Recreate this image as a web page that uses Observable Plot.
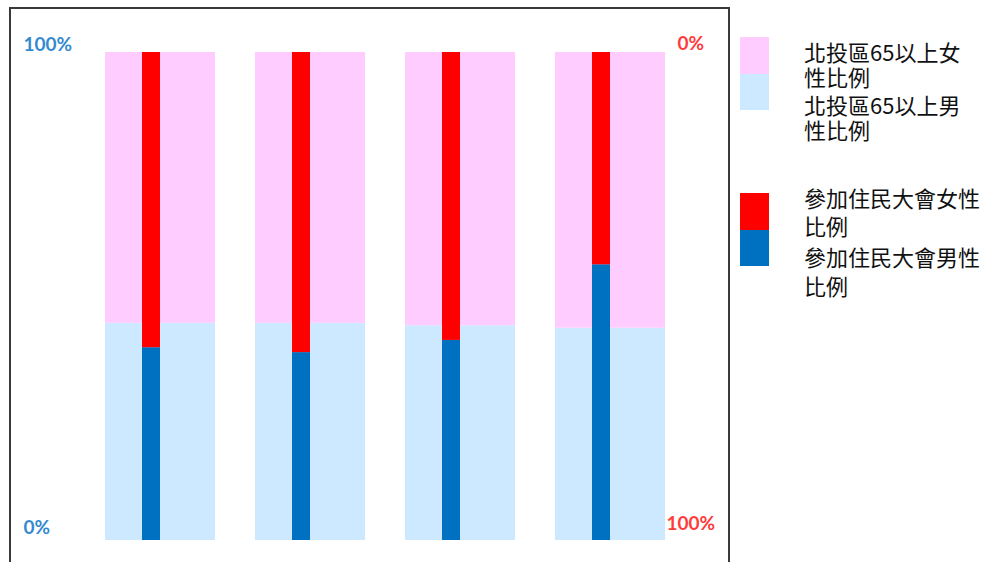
<!DOCTYPE html>
<html>
<head>
<meta charset="utf-8">
<script src="https://cdn.jsdelivr.net/npm/d3@7"></script>
<script src="https://cdn.jsdelivr.net/npm/@observablehq/plot@0.6"></script>
<style>
  html, body { margin: 0; padding: 0; background: #fff; overflow: hidden; }
  #wrap { position: relative; width: 994px; height: 562px; }
  #frame { position: absolute; left: 9px; top: 7px; width: 717px; height: 600px;
           border: 2px solid #3a3a3a; border-bottom: none; }
  #chart { position: absolute; left: 0; top: 0; }
  .leg { position: absolute; font-family: "Noto Sans CJK TC", sans-serif; font-size: 22px; color: #111; }
  .leg .sw { position: absolute; left: 0; width: 29px; }
  .leg .ln { position: absolute; left: 64px; white-space: nowrap; line-height: 1; }
</style>
</head>
<body>
<div id="wrap">
  <div id="frame"></div>
  <div id="chart"></div>
  <div id="legend"></div>
</div>
<script>
// ---- data ----
const groups = ["1", "2", "3", "4"];
// 北投區65以上男性比例 (%)
const districtMale = [44.5, 44.5, 44, 43.5];
// 參加住民大會男性比例 (%)
const meetingMale = [39.5, 38.5, 41, 56.5];
const leftTickValues = [100, 0];
const leftTickLabels = ["100%", "0%"];
const rightTickValues = [100, 0];
const rightTickLabels = ["0%", "100%"];
const legendDistrict = ["北投區65以上女", "性比例", "北投區65以上男", "性比例"];
const legendMeeting = ["參加住民大會女性", "比例", "參加住民大會男性", "比例"];

const colors = { pink: "#ffccff", lightBlue: "#cce9ff", red: "#ff0000", blue: "#0070c0" };

const rows = groups.map((g, i) => ({
  group: g,
  dMale: districtMale[i],
  mMale: meetingMale[i]
}));
const lt = leftTickValues.map((v, i) => ({ v, label: leftTickLabels[i] }));
const rt = rightTickValues.map((v, i) => ({ v, label: rightTickLabels[i] }));

const labelFont = { fontFamily: "Lato, sans-serif", fontWeight: "bold", fontSize: 19 };

const chart = Plot.plot({
  width: 994,
  height: 562,
  marginLeft: 103,
  marginRight: 328,
  marginTop: 52,
  marginBottom: 22,
  x: { type: "band", domain: groups, paddingInner: 0.27, paddingOuter: 0, axis: null },
  y: { domain: [0, 100], axis: null },
  marks: [
    Plot.barY(rows, { x: "group", y1: 0, y2: "dMale", fill: colors.lightBlue }),
    Plot.barY(rows, { x: "group", y1: "dMale", y2: 100, fill: colors.pink }),
    Plot.barY(rows, { x: "group", y1: 0, y2: "mMale", fill: colors.blue, insetLeft: 37, insetRight: 55 }),
    Plot.barY(rows, { x: "group", y1: "mMale", y2: 100, fill: colors.red, insetLeft: 37, insetRight: 55 }),
    Plot.text(lt.filter(d => d.v === 100), { y: "v", text: "label", frameAnchor: "left", textAnchor: "start", dx: -80, dy: -8, fill: "#338ad0", ...labelFont }),
    Plot.text(lt.filter(d => d.v === 0), { y: "v", text: "label", frameAnchor: "left", textAnchor: "start", dx: -80, dy: -13, fill: "#338ad0", ...labelFont }),
    Plot.text(rt.filter(d => d.v === 100), { y: "v", text: "label", frameAnchor: "right", textAnchor: "start", dx: 11, dy: -9, fill: "#ff3b3b", ...labelFont }),
    Plot.text(rt.filter(d => d.v === 0), { y: "v", text: "label", frameAnchor: "right", textAnchor: "start", dx: 0, dy: -17, fill: "#ff3b3b", ...labelFont })
  ]
});
document.getElementById("chart").appendChild(chart);

// ---- legend ----
function legendBlock(top, c1, c2, lines, lineTops) {
  const b = document.createElement("div");
  b.className = "leg";
  b.style.left = "740px";
  b.style.top = top + "px";
  const s1 = document.createElement("div");
  s1.className = "sw"; s1.style.top = "0px"; s1.style.height = "37px"; s1.style.background = c1;
  const s2 = document.createElement("div");
  s2.className = "sw"; s2.style.top = "37px"; s2.style.height = "36px"; s2.style.background = c2;
  b.appendChild(s1); b.appendChild(s2);
  lines.forEach((t, i) => {
    const l = document.createElement("div");
    l.className = "ln"; l.style.top = lineTops[i] + "px"; l.textContent = t;
    b.appendChild(l);
  });
  document.getElementById("legend").appendChild(b);
}
legendBlock(37, colors.pink, colors.lightBlue, legendDistrict, [3, 28, 56, 81]);
legendBlock(193, colors.red, colors.blue, legendMeeting, [-7, 21, 52, 81]);
</script>
</body>
</html>
